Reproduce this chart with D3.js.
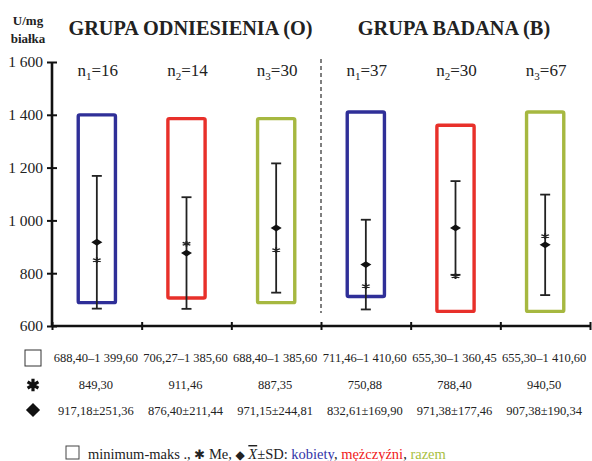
<!DOCTYPE html>
<html lang="pl">
<head>
  <meta charset="utf-8">
  <title>GPx</title>
  <script src="https://cdn.jsdelivr.net/npm/d3@7"></script>
  <style>
    * { margin: 0; padding: 0; }
    body { background: #fff; }
    svg text { font-family: "Liberation Serif", "Times New Roman", serif; fill: #222; }
  </style>
</head>
<body>
  <div id="chart"></div>
  <script>
    var groups = ["GRUPA ODNIESIENIA (O)", "GRUPA BADANA (B)"];
    var categories = ["O-k", "O-m", "O-r", "B-k", "B-m", "B-r"];
    var nSub = [1, 2, 3, 1, 2, 3];
    var nValues = [16, 14, 30, 37, 30, 67];
    var minValues = [688.40, 706.27, 688.40, 711.46, 655.30, 655.30];
    var maxValues = [1399.60, 1385.60, 1385.60, 1410.60, 1360.45, 1410.60];
    var medianValues = [849.30, 911.46, 887.35, 750.88, 788.40, 940.50];
    var meanValues = [917.18, 876.40, 971.15, 832.61, 971.38, 907.38];
    var sdValues = [251.36, 211.44, 244.81, 169.90, 177.46, 190.34];
    var yTicks = [600, 800, 1000, 1200, 1400, 1600];
    var sexLabels = ["kobiety", "mężczyźni", "razem"];
    var sexColors = ["#2f2f98", "#e8302a", "#a6b840"];
    var legendColors = ["#3434a8", "#f02020", "#a8c040"];

    var width = 592, height = 461;
    var plot = { left: 52, right: 590, top: 62, bottom: 326 };

    var pl = d3.formatLocale({ decimal: ",", thousands: " ", grouping: [3], currency: ["", " zł"] });
    var f2 = pl.format(",.2f");
    var f0 = pl.format(",.0f");

    var svg = d3.select("#chart").append("svg")
        .attr("width", width)
        .attr("height", height);

    var x = d3.scaleBand()
        .domain(categories)
        .range([plot.left, plot.right])
        .paddingInner(0.585)
        .paddingOuter(0.2925);
    var xEdge = d3.scaleLinear().domain([0, categories.length]).range([plot.left, plot.right]);
    var y = d3.scaleLinear().domain([600, 1600]).range([plot.bottom, plot.top]);

    // os Y
    var yAxisG = svg.append("g")
        .attr("transform", "translate(" + plot.left + ",0)")
        .call(d3.axisLeft(y).tickValues(yTicks).tickFormat(f0).tickSize(5).tickPadding(4));
    yAxisG.select(".domain").remove();
    yAxisG.append("line")
        .attr("y1", y(1600)).attr("y2", y(600))
        .attr("stroke", "#111").attr("stroke-width", 2.6);
    yAxisG.selectAll(".tick line").attr("x2", 5).attr("x1", -5)
        .attr("stroke", "#111").attr("stroke-width", 2);
    yAxisG.selectAll(".tick text")
        .attr("font-size", "15.5px").attr("fill", "#222");

    // os X
    var xAxisG = svg.append("g")
        .attr("transform", "translate(0," + plot.bottom + ")")
        .call(d3.axisBottom(xEdge).ticks(categories.length).tickFormat("").tickSize(4));
    xAxisG.select(".domain").remove();
    xAxisG.append("line")
        .attr("x1", plot.left).attr("x2", plot.right)
        .attr("stroke", "#111").attr("stroke-width", 2.6);
    xAxisG.selectAll(".tick line").attr("y1", -4).attr("y2", 4)
        .attr("stroke", "#111").attr("stroke-width", 2);

    // linia podzialu grup
    svg.append("line")
        .attr("x1", xEdge(3)).attr("x2", xEdge(3))
        .attr("y1", 59).attr("y2", 313)
        .attr("stroke", "#555").attr("stroke-width", 1.5)
        .attr("stroke-dasharray", "4,3");

    // tytuly
    svg.selectAll("text.group").data(groups).enter().append("text")
        .attr("class", "group")
        .attr("x", function(d, i) { return (xEdge(i * 3) + xEdge(i * 3 + 3)) / 2 + (i ? -1.5 : 4); })
        .attr("y", 35)
        .attr("text-anchor", "middle")
        .attr("font-size", "20.3px").attr("font-weight", "bold")
        .text(function(d) { return d; });

    svg.append("text").attr("x", 28).attr("y", 25).attr("text-anchor", "middle")
        .attr("font-size", "13px").attr("font-weight", "bold").text("U/mg");
    svg.append("text").attr("x", 28).attr("y", 43).attr("text-anchor", "middle")
        .attr("font-size", "13px").attr("font-weight", "bold").text("białka");

    // n
    var nText = svg.selectAll("text.n").data(categories).enter().append("text")
        .attr("class", "n")
        .attr("x", function(d) { return x(d) + x.bandwidth() / 2 + 1; })
        .attr("y", 76)
        .attr("text-anchor", "middle")
        .attr("font-size", "17px");
    nText.append("tspan").text("n");
    nText.append("tspan").attr("font-size", "11px").attr("dy", 4).text(function(d, i) { return nSub[i]; });
    nText.append("tspan").attr("dy", -4).text(function(d, i) { return "=" + nValues[i]; });

    // prostokaty min-max
    svg.selectAll("rect.box").data(categories).enter().append("rect")
        .attr("class", "box")
        .attr("x", function(d) { return x(d); })
        .attr("y", function(d, i) { return y(maxValues[i]); })
        .attr("width", x.bandwidth())
        .attr("height", function(d, i) { return y(minValues[i]) - y(maxValues[i]); })
        .attr("rx", 1.5)
        .attr("fill", "none")
        .attr("stroke", function(d, i) { return sexColors[i % 3]; })
        .attr("stroke-width", 3.4);

    // srednia +- SD
    var eb = svg.selectAll("g.eb").data(categories).enter().append("g")
        .attr("class", "eb")
        .attr("transform", function(d) { return "translate(" + (x(d) + x.bandwidth() / 2) + ",0)"; });
    eb.append("line")
        .attr("y1", function(d, i) { return y(meanValues[i] + sdValues[i]); })
        .attr("y2", function(d, i) { return y(meanValues[i] - sdValues[i]); })
        .attr("stroke", "#222").attr("stroke-width", 1.8);
    [1, -1].forEach(function(s) {
      eb.append("line")
          .attr("x1", -5).attr("x2", 5)
          .attr("y1", function(d, i) { return y(meanValues[i] + s * sdValues[i]); })
          .attr("y2", function(d, i) { return y(meanValues[i] + s * sdValues[i]); })
          .attr("stroke", "#222").attr("stroke-width", 1.8);
    });
    eb.append("path")
        .attr("d", d3.symbol(d3.symbolSquare, 36))
        .attr("transform", function(d, i) { return "translate(0," + y(meanValues[i]) + ") scale(1.3,0.8) rotate(45)"; })
        .attr("fill", "#111");
    eb.append("path")
        .attr("d", d3.symbol(d3.symbolAsterisk, 45))
        .attr("transform", function(d, i) { return "translate(0," + y(medianValues[i]) + ") scale(1.1,0.7)"; })
        .attr("fill", "none").attr("stroke", "#222").attr("stroke-width", 1.8);

    // tabela
    var rows = [
      function(i) { return f2(minValues[i]) + "–" + f2(maxValues[i]); },
      function(i) { return f2(medianValues[i]); },
      function(i) { return f2(meanValues[i]) + "±" + f2(sdValues[i]); }
    ];
    var rowY = [362, 389, 415];
    rows.forEach(function(fn, r) {
      svg.selectAll("text.row" + r).data(categories).enter().append("text")
          .attr("class", "row" + r)
          .attr("x", function(d) { return x(d) + x.bandwidth() / 2 - 1; })
          .attr("y", rowY[r])
          .attr("text-anchor", "middle")
          .attr("font-size", "12.5px")
          .text(function(d, i) { return fn(i); });
    });
    svg.append("rect").attr("x", 25).attr("y", 350).attr("width", 16).attr("height", 16)
        .attr("fill", "none").attr("stroke", "#333").attr("stroke-width", 1);
    svg.append("path").attr("d", d3.symbol(d3.symbolAsterisk, 110))
        .attr("transform", "translate(33,385)")
        .attr("stroke", "#111").attr("stroke-width", 3.2);
    svg.append("path").attr("d", d3.symbol(d3.symbolSquare, 100))
        .attr("transform", "translate(33,410) rotate(45)")
        .attr("fill", "#111");

    // legenda
    svg.append("rect").attr("x", 66).attr("y", 446).attr("width", 13).attr("height", 13)
        .attr("fill", "none").attr("stroke", "#444").attr("stroke-width", 1);
    var lg = svg.append("text").attr("x", 88).attr("y", 459).attr("font-size", "14.5px");
    lg.append("tspan").text("minimum-maks ., ");
    lg.append("tspan").attr("font-family", "DejaVu Sans").attr("font-size", "13px").text("✱");
    lg.append("tspan").text(" Me, ");
    lg.append("tspan").attr("font-family", "DejaVu Sans").attr("font-size", "12px").text("◆");
    lg.append("tspan").text(" ");
    lg.append("tspan").attr("font-style", "italic").attr("text-decoration", "overline").text("X");
    lg.append("tspan").text("±SD: ");
    sexLabels.forEach(function(s, i) {
      lg.append("tspan").style("fill", legendColors[i]).text(s);
      if (i < sexLabels.length - 1) lg.append("tspan").text(", ");
    });
  </script>
</body>
</html>
